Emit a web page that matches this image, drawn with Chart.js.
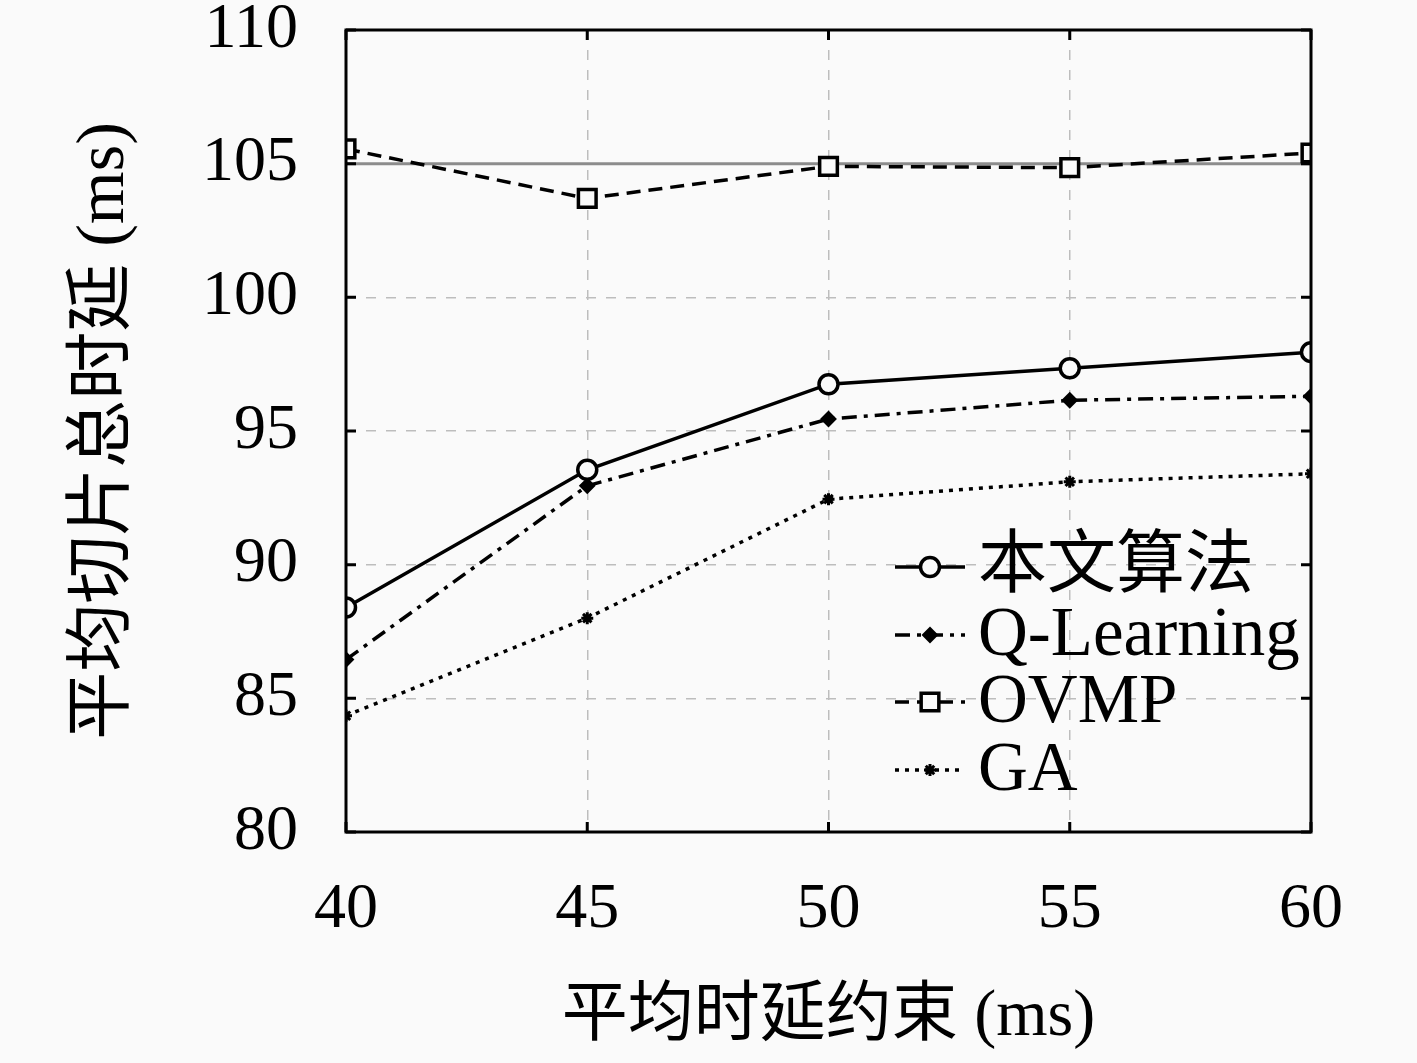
<!DOCTYPE html>
<html>
<head>
<meta charset="utf-8">
<script src="https://cdn.jsdelivr.net/npm/chart.js@4.4.1/dist/chart.umd.min.js"></script>
<style>
html,body{margin:0;padding:0;background:#fafafa;}
canvas{display:block;}
</style>
</head>
<body>
<canvas id="c" width="1417" height="1063"></canvas>
<script>
const xValues = [40, 45, 50, 55, 60];
const seriesOurs = [88.4, 93.55, 96.75, 97.35, 97.95];
const seriesQL = [86.45, 92.95, 95.45, 96.15, 96.3];
const seriesOVMP = [105.55, 103.7, 104.9, 104.85, 105.4];
const seriesGA = [84.35, 88.0, 92.45, 93.1, 93.4];
const refLine = [105, 105, 105, 105, 105];
const seriesNames = ['本文算法', 'Q-Learning', 'OVMP', 'GA'];
const yTicks = [80, 85, 90, 95, 100, 105, 110];
const xTitle = '平均时延约束 (ms)';
const yTitle = '平均切片总时延 (ms)';

const FONT = "'Liberation Serif', 'Noto Sans CJK SC', serif";
const pts = arr => arr.map((v, i) => ({x: xValues[i], y: v}));

const datasets = [
  {label: seriesNames[0], data: pts(seriesOurs), borderColor: '#000', borderWidth: 3.5, borderDash: [],
   pointStyle: 'circle', pointRadius: 9.5, pointBorderWidth: 3.5, pointBackgroundColor: '#fafafa', pointBorderColor: '#000', order: 1},
  {label: seriesNames[1], data: pts(seriesQL), borderColor: '#000', borderWidth: 3.5, borderDash: [15, 7, 4, 7],
   pointStyle: 'rectRot', pointRadius: 7, pointBorderWidth: 2, pointBackgroundColor: '#000', pointBorderColor: '#000', order: 2},
  {label: seriesNames[2], data: pts(seriesOVMP), borderColor: '#000', borderWidth: 3.5, borderDash: [14, 8],
   pointStyle: 'rect', pointRadius: 12.5, pointBorderWidth: 3.5, pointBackgroundColor: '#fafafa', pointBorderColor: '#000', order: 3},
  {label: seriesNames[3], data: pts(seriesGA), borderColor: '#000', borderWidth: 3.5, borderDash: [4, 6],
   pointStyle: 'star', pointRadius: 6, pointBorderWidth: 3, pointBackgroundColor: '#000', pointBorderColor: '#000', order: 4},
  {label: '', data: pts(refLine), borderColor: '#8c8c8c', borderWidth: 3, pointRadius: 0, order: 10, isRef: true}
];

const bgPlugin = {
  id: 'bg',
  beforeDraw(chart) {
    const ctx = chart.ctx;
    ctx.save();
    ctx.fillStyle = '#fafafa';
    ctx.fillRect(0, 0, chart.width, chart.height);
    ctx.restore();
  }
};

const framePlugin = {
  id: 'frame',
  afterDatasetsDraw(chart) {
    const {ctx, chartArea: a, scales} = chart;
    ctx.save();
    ctx.strokeStyle = '#000';
    ctx.lineWidth = 3;
    ctx.setLineDash([]);
    const tl = 10;
    scales.x.ticks.forEach(t => {
      const px = scales.x.getPixelForValue(t.value);
      ctx.beginPath();
      ctx.moveTo(px, a.bottom); ctx.lineTo(px, a.bottom - tl);
      ctx.moveTo(px, a.top); ctx.lineTo(px, a.top + tl);
      ctx.stroke();
    });
    scales.y.ticks.forEach(t => {
      const py = scales.y.getPixelForValue(t.value);
      ctx.beginPath();
      ctx.moveTo(a.left, py); ctx.lineTo(a.left + tl, py);
      ctx.moveTo(a.right, py); ctx.lineTo(a.right - tl, py);
      ctx.stroke();
    });
    ctx.strokeRect(a.left, a.top, a.right - a.left, a.bottom - a.top);

    // legend
    const rows = [567, 635, 702, 770];
    const x0 = 895, x1 = 965, xm = 930, xt = 978;
    chart.data.datasets.forEach((ds, i) => {
      if (ds.isRef) return;
      const y = rows[i];
      ctx.save();
      ctx.strokeStyle = ds.borderColor;
      ctx.lineWidth = ds.borderWidth;
      ctx.setLineDash(ds.borderDash || []);
      ctx.beginPath();
      ctx.moveTo(x0, y); ctx.lineTo(x1, y);
      ctx.stroke();
      ctx.restore();
      ctx.save();
      ctx.fillStyle = ds.pointBackgroundColor;
      ctx.strokeStyle = ds.pointBorderColor;
      ctx.lineWidth = ds.pointBorderWidth;
      ctx.setLineDash([]);
      Chart.helpers.drawPoint(ctx, {pointStyle: ds.pointStyle, radius: ds.pointRadius, rotation: 0, borderWidth: ds.pointBorderWidth}, xm, y);
      ctx.restore();
      ctx.save();
      ctx.fillStyle = '#000';
      ctx.font = '69px ' + FONT;
      ctx.textBaseline = 'middle';
      ctx.textAlign = 'left';
      ctx.fillText(ds.label, xt, y + 2);
      ctx.restore();
    });
    ctx.restore();
  }
};

new Chart(document.getElementById('c'), {
  type: 'line',
  data: {datasets},
  options: {
    responsive: false,
    animation: false,
    devicePixelRatio: 1,
    layout: {padding: {left: 0, top: 30, right: 106, bottom: 0}},
    plugins: {legend: {display: false}, tooltip: {enabled: false}},
    elements: {line: {tension: 0}},
    scales: {
      x: {
        type: 'linear', min: 40, max: 60,
        afterBuildTicks: s => { s.ticks = xValues.map(v => ({value: v})); },
        afterFit: s => { s.height = 231; s.paddingLeft = 0; s.paddingRight = 0; },
        ticks: {font: {family: FONT, size: 64, lineHeight: 1}, color: '#000', padding: 46, maxRotation: 0, autoSkip: false},
        grid: {color: '#bdbdbd', lineWidth: 1.5, drawTicks: false},
        border: {display: false, dash: [10, 10]},
        title: {display: true, text: xTitle, font: {family: FONT, size: 66, lineHeight: 1.2}, color: '#000', padding: {top: 0, bottom: 6}}
      },
      y: {
        type: 'linear', min: 80, max: 110,
        afterBuildTicks: s => { s.ticks = yTicks.map(v => ({value: v})); },
        afterFit: s => { s.width = 346; s.paddingTop = 0; s.paddingBottom = 0; },
        ticks: {font: {family: FONT, size: 64, lineHeight: 1}, color: '#000', padding: 48},
        grid: {color: '#bdbdbd', lineWidth: 1.5, drawTicks: false},
        border: {display: false, dash: [10, 10]},
        title: {display: true, text: yTitle, font: {family: FONT, size: 68, lineHeight: 1.2}, color: '#000', padding: {top: 64, bottom: 0}}
      }
    }
  },
  plugins: [bgPlugin, framePlugin]
});
</script>
</body>
</html>
